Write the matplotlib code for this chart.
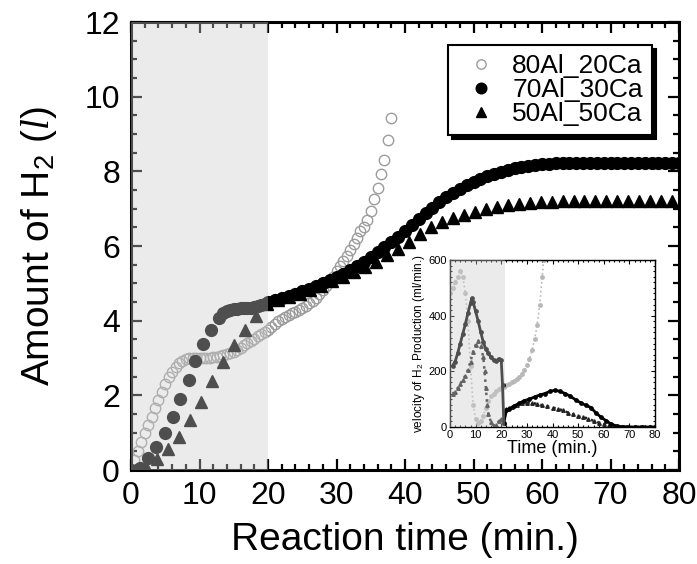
import matplotlib
matplotlib.use('Agg')
import matplotlib.pyplot as plt
from matplotlib.ticker import MultipleLocator

plt.rcParams['font.family'] = ['Liberation Sans', 'DejaVu Sans']
plt.rcParams['mathtext.fontset'] = 'custom'
plt.rcParams['mathtext.rm'] = 'Liberation Sans'
plt.rcParams['mathtext.it'] = 'Liberation Serif:italic'

# ---- main plot: amount of H2 (l) vs reaction time (min.) ----
t_80 = [0, 0.5, 1, 1.5, 2, 2.5, 3, 3.5, 4, 4.5, 5, 5.5, 6, 6.5, 7, 7.5, 8, 8.5, 9, 9.5,
        10, 10.5, 11, 11.5, 12, 12.5, 13, 13.5, 14, 14.5, 15, 15.5, 16, 16.5, 17, 17.5,
        18, 18.5, 19, 19.5, 20, 20.5, 21, 21.5, 22, 22.5, 23, 23.5, 24, 24.5, 25, 25.5,
        26, 26.5, 27, 27.5, 28, 28.5, 29, 29.5, 30, 30.5, 31, 31.5, 32, 32.5, 33, 33.5,
        34, 34.5, 35, 35.5, 36, 36.5, 37, 37.5, 38]
h2_80 = [0.0, 0.27, 0.5, 0.75, 0.98, 1.2, 1.43, 1.66, 1.88, 2.1, 2.3, 2.48, 2.63, 2.75,
         2.86, 2.93, 2.97, 2.99, 3.0, 3.0, 3.0, 3.0, 3.0, 3.01, 3.02, 3.03, 3.05, 3.07,
         3.1, 3.13, 3.17, 3.22, 3.28, 3.34, 3.4, 3.46, 3.52, 3.58, 3.64, 3.7, 3.76, 3.84,
         3.92, 3.99, 4.05, 4.1, 4.15, 4.2, 4.24, 4.28, 4.34, 4.4, 4.47, 4.54, 4.62, 4.72,
         4.82, 4.94, 5.06, 5.18, 5.32, 5.46, 5.6, 5.74, 5.9, 6.06, 6.22, 6.4, 6.5, 6.7,
         6.95, 7.25, 7.55, 7.92, 8.3, 8.85, 9.42]

t_70 = [0, 1.3, 2.5, 3.7, 5.0, 6.2, 7.2, 8.4, 9.4, 10.5, 11.7, 12.8, 13.5, 14, 14.5, 15,
        15.5, 16, 16.5, 17, 17.5, 18, 18.5, 19, 19.5, 20, 21, 22, 23, 24, 25, 26, 27, 28,
        29, 30, 31, 32, 33, 34, 35, 36, 37, 38, 39, 40, 41, 42, 43, 44, 45, 46, 47, 48,
        49, 50, 51, 52, 53, 54, 55, 56, 57, 58, 59, 60, 61, 62, 63, 64, 65, 66, 67, 68,
        69, 70, 71, 72, 73, 74, 75, 76, 77, 78, 79, 80]
h2_70 = [0, 0.05, 0.31, 0.62, 0.98, 1.41, 1.9, 2.41, 2.93, 3.37, 3.75, 4.08, 4.2, 4.26,
         4.29, 4.31, 4.32, 4.33, 4.33, 4.34, 4.35, 4.36, 4.38, 4.41, 4.45, 4.5,
         4.55, 4.6, 4.66, 4.72, 4.79, 4.86, 4.93, 5.0, 5.08, 5.16,
         5.25, 5.35, 5.46, 5.58, 5.7, 5.83, 5.96, 6.1, 6.25, 6.4,
         6.56, 6.72, 6.88, 7.03, 7.17, 7.3, 7.42, 7.53, 7.63, 7.72,
         7.8, 7.87, 7.93, 7.99, 8.04, 8.08, 8.12, 8.15, 8.17, 8.19,
         8.2, 8.21, 8.22, 8.22, 8.22, 8.22, 8.22, 8.22, 8.22, 8.22, 8.22, 8.22, 8.22,
         8.22, 8.22, 8.22, 8.22, 8.22, 8.22, 8.22]

t_50 = [0, 0.6, 2.2, 3.8, 5.4, 7.0, 8.6, 10.2, 11.8, 13.4, 15.0, 16.6, 18.2, 19.8, 21.4,
        23.0, 24.6, 26.2, 27.8, 29.4, 31.0, 32.6, 34.2, 35.8, 37.4, 39.0, 40.6, 42.2,
        43.8, 45.4, 47.0, 48.6, 50.2, 51.8, 53.4, 55.0, 56.6, 58.2, 59.8, 61.4, 63.0,
        64.6, 66.2, 67.8, 69.4, 71.0, 72.6, 74.2, 75.8, 77.4, 79.0]
h2_50 = [0, 0, 0.08, 0.3, 0.57, 0.89, 1.34, 1.83, 2.38, 2.9, 3.35, 3.76, 4.13, 4.45,
         4.55, 4.63, 4.72, 4.82, 4.93, 5.05, 5.17, 5.3, 5.43, 5.57, 5.75, 5.93, 6.12,
         6.32, 6.5, 6.63, 6.74, 6.83, 6.91, 6.98, 7.04, 7.09, 7.13, 7.16, 7.18, 7.19,
         7.2, 7.2, 7.2, 7.2, 7.2, 7.2, 7.2, 7.2, 7.2, 7.2, 7.2]

# ---- inset: velocity of H2 production (ml/min.) ----
tv_80 = [0, 1, 2, 3, 4, 5, 6, 7, 8, 9, 10, 11, 12, 13, 14, 15, 16, 17, 18, 19, 20, 21,
         22, 23, 24, 25, 26, 27, 28, 29, 30, 31, 32, 33, 34, 35, 36, 36.5]
v_80 = [480, 500, 520, 540, 560, 540, 480, 380, 220, 80, 30, 15, 20, 40, 70, 95, 110,
        120, 128, 135, 140, 145, 150, 155, 160, 165, 172, 180, 190, 205, 222, 245, 275,
        315, 365, 440, 540, 600]

tv_70 = [1, 2, 3, 4, 5, 6, 7, 8, 8.5, 9, 10, 11, 12, 13, 14, 15, 16, 17, 18, 19, 20,
         20.5, 21, 22, 23, 25, 27, 29, 31, 33, 35, 37, 39, 41, 43, 45, 47, 49, 51, 53,
         55, 57, 59, 61, 63, 65, 67, 69, 72, 75, 78, 80]
v_70 = [220, 235, 265, 300, 335, 370, 410, 445, 462, 450, 415, 380, 340, 305, 280, 265,
        250, 240, 238, 245, 240, 150, 15, 60, 65, 75, 85, 95, 100, 108, 115, 120, 128,
        132, 128, 120, 110, 98, 87, 78, 70, 50, 35, 22, 10, 4, 1, 0, 0, 0, 0, 0]

tv_50 = [1, 2, 3, 4, 5, 6, 7, 8, 9, 10, 11, 12, 13, 13.5, 14, 14.5, 15, 16, 17, 18, 19,
         20, 21, 22, 24, 26, 28, 30, 32, 34, 36, 38, 40, 42, 44, 46, 48, 50, 52, 54, 56,
         58, 60, 62, 64, 66, 68, 72, 76, 80]
v_50 = [120, 125, 140, 155, 170, 185, 205, 235, 270, 295, 310, 290, 250, 200, 140, 80,
        45, 18, 5, 8, 20, 30, 15, 65, 72, 80, 85, 88, 88, 82, 78, 74, 70, 65, 60, 52, 45,
        38, 35, 30, 22, 16, 10, 6, 3, 1, 0, 0, 0, 0]

labels = ['80Al_20Ca', '70Al_30Ca', '50Al_50Ca']

fig = plt.figure(figsize=(6.97, 5.64), dpi=100)
ax = fig.add_axes([131/697, 94/564, 548/697, 448/564])

ax.plot(t_80, h2_80, 'o', ms=7.5, mfc='none', mec='#9c9c9c', mew=1.0, label=labels[0], zorder=2)
ax.plot(t_70, h2_70, 'o', ms=8.5, color='black', mec='black', label=labels[1], zorder=2.2)
ax.plot(t_50, h2_50, '^', ms=8, color='black', mec='black', label=labels[2], zorder=2.1)

# gray shading drawn over the first 20 min
ax.axvspan(0, 20, color='#cdcdcd', alpha=0.385, lw=0, zorder=3)

ax.set_xlim(0, 80)
ax.set_ylim(0, 12)
ax.xaxis.set_major_locator(MultipleLocator(10))
ax.xaxis.set_minor_locator(MultipleLocator(2))
ax.yaxis.set_major_locator(MultipleLocator(2))
ax.yaxis.set_minor_locator(MultipleLocator(0.5))
ax.tick_params(which='both', direction='in', top=True, right=True, width=1.6)
ax.tick_params(which='major', length=8, labelsize=23, pad=8)
ax.tick_params(which='minor', length=4.5)
for s in ax.spines.values():
    s.set_linewidth(2.2)
ax.set_xlabel('Reaction time (min.)', fontsize=28, labelpad=8)
ax.set_ylabel(r'Amount of H$_2$ ($\mathit{l}$)', fontsize=28, labelpad=18)

leg = ax.legend(loc='upper right', bbox_to_anchor=(0.951, 0.949), borderaxespad=0,
                fontsize=19, fancybox=False, framealpha=1, edgecolor='black',
                handletextpad=0.3, labelspacing=0.0, borderpad=0.35, handlelength=1.8,
                markerscale=0.9,
                shadow={'ox': 3, 'oy': -3, 'color': 'black', 'alpha': 1})
leg.get_frame().set_linewidth(1.5)

# ---- inset ----
ins = fig.add_axes([450/697, 137/564, 205/697, 167/564])
ins.plot(tv_80, v_80, ':', color='#b8b8b8', lw=1.2, marker='o', ms=2.5, mec='#b8b8b8', zorder=2)
ins.plot(tv_50, v_50, ':', color='#222222', lw=1.8, marker='^', ms=2.5, zorder=2.1)
ins.plot(tv_70, v_70, '-', color='black', lw=2.0, marker='o', ms=2.4, zorder=2.2)
ins.axvspan(0, 21.5, color='#cdcdcd', alpha=0.385, lw=0, zorder=3)
ins.set_xlim(0, 80)
ins.set_ylim(0, 600)
ins.xaxis.set_major_locator(MultipleLocator(10))
ins.xaxis.set_minor_locator(MultipleLocator(2))
ins.yaxis.set_major_locator(MultipleLocator(200))
ins.yaxis.set_minor_locator(MultipleLocator(20))
ins.tick_params(which='both', direction='in', top=True, right=True, width=0.8)
ins.tick_params(which='major', length=3, labelsize=8, pad=2)
ins.tick_params(which='minor', length=1.5)
for s in ins.spines.values():
    s.set_linewidth(1)
ins.set_xlabel('Time (min.)', fontsize=13, labelpad=0)
ins.set_ylabel(r'velocity of H$_2$ Production (ml/min.)', fontsize=8.5, labelpad=1)

fig.savefig('out.png', dpi=100)
